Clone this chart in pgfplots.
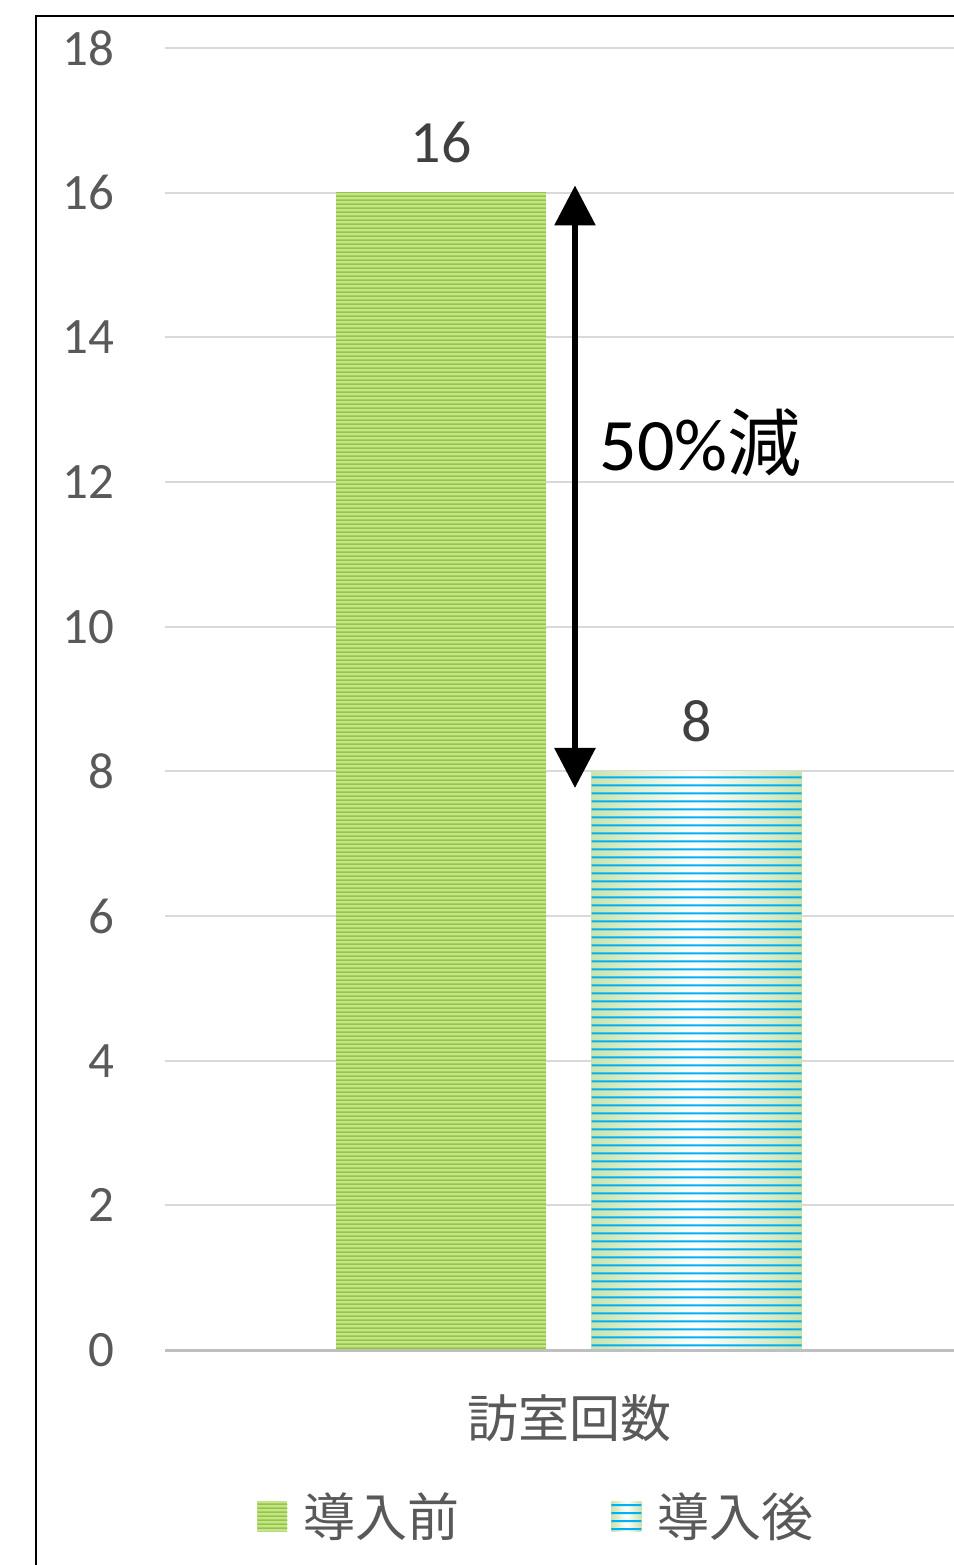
\documentclass[border=0pt]{standalone}
\usepackage{fontspec}
\setmainfont{Carlito}
\newfontfamily\jp{Noto Sans CJK JP}
\usepackage{pgfplots}
\pgfplotsset{compat=1.18}
\usetikzlibrary{patterns,arrows.meta}
\definecolor{tickgray}{HTML}{595959}
\definecolor{gridgray}{HTML}{D9D9D9}
\definecolor{basegray}{HTML}{BFBFBF}
\definecolor{barlight}{HTML}{C6E28F}
\definecolor{bardark}{HTML}{92C83E}
\definecolor{stripeblue}{HTML}{00B0F0}
\definecolor{edgegreen}{HTML}{C9E3AE}
\definecolor{labelgray}{HTML}{404040}

% wide horizontal stripe tiles
\pgfdeclarepatternformonly{greenstripes}{\pgfpoint{0pt}{0pt}}{\pgfpoint{300pt}{2pt}}{\pgfpoint{300pt}{2pt}}{%
  \pgfpathrectangle{\pgfpoint{-1pt}{0pt}}{\pgfpoint{302pt}{1pt}}\pgfusepath{fill}}
\pgfdeclarepatternformonly{bluestripes}{\pgfpoint{0pt}{0pt}}{\pgfpoint{300pt}{4pt}}{\pgfpoint{300pt}{4pt}}{%
  \pgfpathrectangle{\pgfpoint{-1pt}{1.5pt}}{\pgfpoint{302pt}{1.1pt}}\pgfusepath{fill}}

\begin{document}
\begin{tikzpicture}
\path[use as bounding box] (0,0) rectangle (477pt,-782.5pt);
\clip (0,0) rectangle (477pt,-782.5pt);
% chart frame
\draw[line width=1pt] (18pt,-800pt) -- (18pt,-8pt) -- (500pt,-8pt);
\begin{axis}[
  at={(82.5pt,-675pt)}, anchor=south west,
  scale only axis, width=404pt, height=651pt,
  xmin=0, xmax=1, ymin=0, ymax=18,
  ytick={0,2,...,18},
  xtick={0.501}, xticklabels={{\jp 訪室回数}},
  axis line style={draw=none},
  major tick length=0pt,
  ymajorgrids, grid style={gridgray, line width=1pt},
  ticklabel style={font=\fontsize{25.5}{28}\selectfont, text=tickgray},
  /pgf/number format/assume math mode=true,
  yticklabel style={anchor=east, inner sep=0pt, xshift=-25pt},
  xticklabel style={anchor=north, inner sep=0pt, yshift=-22pt},
  clip=false,
  legend style={at={(0.1139,-0.1275)}, anchor=west, draw=none, fill=none,
    inner sep=0pt, font=\jp\fontsize{26}{30}\selectfont, text=tickgray,
    nodes={inner sep=0pt},
    /tikz/every odd column/.append style={column sep=8pt},
    /tikz/every even column/.append style={column sep=76pt}},
  legend columns=2,
  legend image code/.code={\path[#1, draw=none] (0pt,-7.5pt) rectangle (15pt,7.5pt);},
  nodes near coords,
  nodes near coords style={anchor=south, inner sep=0pt, yshift=14.5pt,
    font=\fontsize{30}{34}\selectfont, text=labelgray},
]
\addplot[ybar, bar width=105pt, bar shift=0pt, draw=none,
  preaction={fill=barlight},
  pattern=greenstripes, pattern color=bardark]
  coordinates {(0.3416,16)};
\addlegendentry{導入前}
\addplot[ybar, bar width=105pt, bar shift=0pt, draw=none,
  preaction={left color=edgegreen, right color=edgegreen, middle color=white},
  pattern=bluestripes, pattern color=stripeblue]
  coordinates {(0.6578,8)};
\addlegendentry{導入後}
% baseline
\draw[basegray, line width=1.5pt] (rel axis cs:0,0) -- (rel axis cs:1.1,0);
% change arrow
\draw[line width=3pt, {Triangle[length=20pt,width=20pt]}-{Triangle[length=20pt,width=20pt]}]
  (axis cs:0.5074,7.77) -- (axis cs:0.5074,16.1);
\node[font=\fontsize{37}{40}\selectfont, text=black, inner sep=0pt]
  at (axis cs:0.663,12.54) {50\%{\jp 減}};
\end{axis}
\end{tikzpicture}
\end{document}
